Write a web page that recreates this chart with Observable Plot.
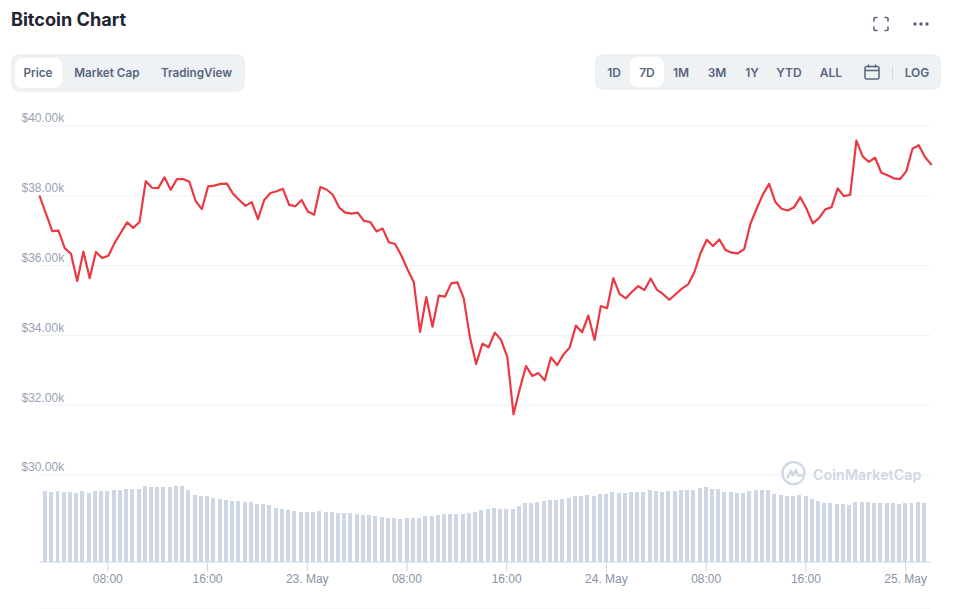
<!DOCTYPE html>
<html>
<head>
<meta charset="utf-8">
<script src="https://cdn.jsdelivr.net/npm/d3@7"></script>
<script src="https://cdn.jsdelivr.net/npm/@observablehq/plot@0.6"></script>
<style>
html,body{margin:0;padding:0;background:#fff;width:959px;height:609px;overflow:hidden;font-family:Inter,sans-serif}
#page{position:relative;width:959px;height:609px}
#chart{position:absolute;left:0;top:100px}
#chart svg{display:block;background:transparent}
.title{position:absolute;left:11px;top:6.5px;font:700 18.1px/24px Inter,sans-serif;color:#222531}
.panel{position:absolute;background:#eff2f5;border-radius:8px}
.active{position:absolute;background:#fff;border-radius:8px}
.lbl{position:absolute;transform:translateX(-50%);font:600 12px/16px Inter,sans-serif;color:#58667e;white-space:nowrap}
.tab{font-size:11.7px}
.abs{position:absolute}
.wm{position:absolute;left:813px;top:465px;font:600 14.2px/20px Inter,sans-serif;color:#cfd6e4;letter-spacing:.1px}
</style>
</head>
<body>
<div id="page">
  <div class="title">Bitcoin Chart</div>
  <svg class="abs" style="left:872px;top:16px" width="18" height="16" viewBox="0 0 18 16" fill="none" stroke="#58667e" stroke-width="1.6" stroke-linecap="round">
    <path d="M2 5V2.6Q2 1.5 3.2 1.5H5M13 1.5h1.8Q16 1.5 16 2.6V5M16 11v2.4q0 1.1-1.2 1.1H13M5 14.5H3.2Q2 14.5 2 13.4V11"/>
  </svg>
  <svg class="abs" style="left:912px;top:20px" width="18" height="8" viewBox="0 0 18 8" fill="#58667e">
    <circle cx="3" cy="4" r="1.7"/><circle cx="9" cy="4" r="1.7"/><circle cx="15" cy="4" r="1.7"/>
  </svg>
  <div class="panel" style="left:11px;top:54px;width:234px;height:38px"></div>
  <div class="active" style="left:15px;top:58px;width:47px;height:30px"></div>
  <div class="lbl tab" style="left:38px;top:65px">Price</div>
  <div class="lbl tab" style="left:106.8px;top:65px">Market Cap</div>
  <div class="lbl tab" style="left:196.5px;top:65px">TradingView</div>
  <div class="panel" style="left:595px;top:54px;width:346px;height:36px"></div>
  <div class="active" style="left:630px;top:57px;width:34px;height:30px"></div>
  <div class="lbl" style="left:614px;top:65px">1D</div>
  <div class="lbl" style="left:647px;top:65px">7D</div>
  <div class="lbl" style="left:681px;top:65px">1M</div>
  <div class="lbl" style="left:717px;top:65px">3M</div>
  <div class="lbl" style="left:752px;top:65px">1Y</div>
  <div class="lbl" style="left:789px;top:65px">YTD</div>
  <div class="lbl" style="left:831px;top:65px">ALL</div>
  <svg class="abs" style="left:864px;top:64px" width="16" height="16" viewBox="0 0 16 16" fill="none" stroke="#58667e" stroke-width="1.5">
    <rect x="1" y="2.5" width="14" height="12.5" rx="2"/><path d="M1 6.5H15M4.5 .5V3.5M11.5 .5V3.5"/>
  </svg>
  <div class="abs" style="left:892px;top:66px;width:1px;height:13px;background:#cfd6e4"></div>
  <div class="lbl" style="left:917px;top:65px">LOG</div>
  <div id="chart"></div>
  <svg class="abs" style="left:781px;top:461px" width="25" height="26" viewBox="0 0 25 26" fill="none" stroke="#cfd6e4" stroke-width="2.4" stroke-linecap="round" stroke-linejoin="round">
    <path d="M23 15.5A11 11 0 1 1 23.5 12.5"/>
    <path d="M6.5 16.5L10 9.5L12 14.5L15 9L16.5 14Q18.5 16 23 13" />
  </svg>
  <div class="wm">CoinMarketCap</div>
</div>
<script>
// Price in USD, one reading every 30 minutes
const startTime = Date.UTC(2021, 4, 22, 2, 33);
const prices = [37980,37480,36990,37000,36500,36340,35560,36400,35640,36390,36220,36280,36650,36940,37240,37080,37250,38420,38230,38220,38530,38170,38480,38480,38400,37850,37620,38270,38290,38340,38350,38060,37880,37710,37820,37330,37880,38080,38130,38200,37740,37700,37880,37550,37460,38250,38180,38030,37670,37520,37490,37520,37280,37250,36980,37060,36670,36620,36290,35890,35520,34100,35100,34250,35140,35110,35490,35520,35070,33950,33180,33760,33660,34080,33870,33380,31740,32470,33120,32840,32920,32710,33370,33150,33450,33650,34280,34090,34570,33870,34840,34780,35640,35190,35060,35250,35410,35300,35630,35310,35180,35020,35180,35340,35460,35810,36360,36740,36560,36750,36450,36370,36350,36470,37200,37630,38040,38340,37820,37630,37580,37670,37960,37630,37210,37360,37610,37670,38210,37990,38030,39580,39130,38970,39090,38660,38590,38500,38480,38700,39350,39450,39110,38900];
// Trading volume (relative units), bars start at the second reading
const volumes = [71,70,71,70,70,69,71,69,71,71,71,72,72,73,73,73,76,75,75,75,75,76,76,72,67,66,66,64,63,62,61,61,60,60,58,58,57,54,53,52,51,50,50,50,51,50,50,49,49,49,48,47,47,46,45,44,44,43,44,44,44,46,46,47,48,48,48,48,49,50,52,53,54,53,53,53,56,59,59,60,61,62,62,63,64,66,66,67,66,68,68,70,69,69,70,70,70,72,71,70,71,71,72,72,72,74,75,73,73,70,70,69,69,71,72,72,72,68,67,66,66,67,66,63,61,59,59,58,58,57,60,60,60,59,59,59,59,58,59,59,60,59];
const priceTicks = [30000,32000,34000,36000,38000,40000];
const timeTicks = [
  [Date.UTC(2021,4,22,8), "08:00"],
  [Date.UTC(2021,4,22,16), "16:00"],
  [Date.UTC(2021,4,23,0), "23. May"],
  [Date.UTC(2021,4,23,8), "08:00"],
  [Date.UTC(2021,4,23,16), "16:00"],
  [Date.UTC(2021,4,24,0), "24. May"],
  [Date.UTC(2021,4,24,8), "08:00"],
  [Date.UTC(2021,4,24,16), "16:00"],
  [Date.UTC(2021,4,25,0), "25. May"]
];
const tickLabel = new Map(timeTicks);
const STEP = 30 * 60000;
const BAR_HALF = 9.6 * 60000;
const BAR_SHIFT = 2.4 * 60000;
const volumeBase = 27507;      // the volume strip hangs below the price panel
const volumeUnit = 1000 / 34.9;
const bottomRule = 26160;

const priceRows = prices.map((p, i) => ({t: new Date(startTime + i * STEP), p}));
const volumeRows = volumes.map((v, i) => ({t: startTime + (i + 1) * STEP - BAR_SHIFT, v}));
const tick = d => "$" + (d / 1000).toFixed(2) + "k";

const chart = Plot.plot({
  width: 959,
  height: 509,
  marginLeft: 39.3,
  marginRight: 28.3,
  marginTop: 25.5,
  marginBottom: 47.5,
  style: {background: "transparent", overflow: "visible"},
  x: {type: "utc", domain: [new Date(startTime), new Date(startTime + (prices.length - 1) * STEP)]},
  y: {domain: [volumeBase, 40000], axis: null},
  marks: [
    Plot.ruleY([...priceTicks, bottomRule], {stroke: "#eff2f5", strokeWidth: 1}),
    Plot.text(priceTicks, {
      y: d => d, text: tick, frameAnchor: "left", textAnchor: "start", dx: -18.3, dy: -7.4,
      fill: "#98a1b3", fontSize: 12, fontFamily: "Liberation Sans"
    }),
    Plot.rectY(volumeRows, {
      x1: d => new Date(d.t - BAR_HALF), x2: d => new Date(d.t + BAR_HALF),
      y1: volumeBase, y2: d => volumeBase + d.v * volumeUnit,
      fill: "#cfd6e4", shapeRendering: "crispEdges"
    }),
    Plot.ruleY([volumeBase], {stroke: "#ccd6eb", strokeWidth: 1}),
    Plot.axisX({
      ticks: timeTicks.map(d => new Date(d[0])),
      tickFormat: d => tickLabel.get(+d),
      tickSize: 10, tickPadding: 2, stroke: "#ccd6eb", label: null,
      color: "#8a93a6", fill: "#8a93a6", fontSize: 12, fontFamily: "Liberation Sans"
    }),
    Plot.line(priceRows, {x: "t", y: "p", stroke: "#ea3943", strokeWidth: 2.2, curve: "linear"})
  ]
});
document.getElementById("chart").appendChild(chart);
</script>
</body>
</html>
